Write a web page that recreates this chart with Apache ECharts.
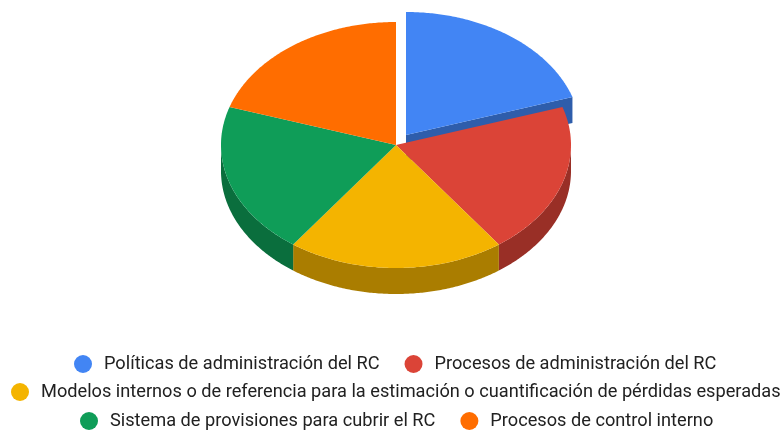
<!DOCTYPE html>
<html>
<head>
<meta charset="utf-8">
<style>
html, body { margin: 0; padding: 0; background: #fff; }
#main { width: 783px; height: 430px; }
</style>
<script src="https://cdn.jsdelivr.net/npm/echarts@6/dist/echarts.min.js"></script>
</head>
<body>
<div id="main"></div>
<script>
var categories = [
    'Políticas de administración del RC',
    'Procesos de administración del RC',
    'Modelos internos o de referencia para la estimación o cuantificación de pérdidas esperadas',
    'Sistema de provisiones para cubrir el RC',
    'Procesos de control interno'
];
var values = [20, 20, 20, 20, 20];
var topColors = ['#4285f4', '#db4437', '#f4b400', '#0f9d58', '#ff6d00'];
var sideColors = ['#2e5dab', '#992f26', '#aa7d00', '#0a6e3d', '#b24c00'];
var legendRows = [[0, 1], [2], [3, 4]];
var legendTops = [355, 383, 412];
var legendLefts = [74, 11, 80];

// pie geometry: elliptical top face, side walls pushed down by DEPTH
var CX = 396, CY = 145, RX = 175, RY = 123, DEPTH = 26;
var EXPLODED = 0, EXPLODE_DX = 10, EXPLODE_DY = -10;
var total = values.reduce(function(a, b) { return a + b; }, 0);

// angle counted clockwise from 12 o'clock
function rimPoint(angle, cx, cy) {
    return [cx + RX * Math.sin(angle), cy - RY * Math.cos(angle)];
}

function arcPoints(a0, a1, cx, cy) {
    var pts = [];
    var steps = Math.max(2, Math.ceil((a1 - a0) / 0.01));
    for (var i = 0; i <= steps; i++) {
        pts.push(rimPoint(a0 + (a1 - a0) * i / steps, cx, cy));
    }
    return pts;
}

function poly(points, fill) {
    return {
        type: 'polygon',
        shape: { points: points },
        style: { fill: fill, stroke: null }
    };
}

function down(points) {
    return points.map(function(p) { return [p[0], p[1] + DEPTH]; });
}

function renderSlice(index, params, api) {
    var before = 0;
    for (var i = 0; i < index; i++) before += values[i];
    var a0 = before / total * Math.PI * 2;
    var a1 = a0 + api.value(0) / total * Math.PI * 2;
    var cx = CX + (index === EXPLODED ? EXPLODE_DX : 0);
    var cy = CY + (index === EXPLODED ? EXPLODE_DY : 0);
    var children = [];

    // cut faces are only seen on the slice pulled out of the pie
    if (index === EXPLODED) {
        [a0, a1].forEach(function(a) {
            var edge = [[cx, cy], rimPoint(a, cx, cy)];
            children.push(poly(edge.concat(down(edge).reverse()), sideColors[index]));
        });
    }
    // outer wall: only the front half of the rim faces the viewer
    var w0 = Math.max(a0, Math.PI / 2), w1 = Math.min(a1, Math.PI * 1.5);
    if (w1 > w0) {
        var rim = arcPoints(w0, w1, cx, cy);
        children.push(poly(rim.concat(down(rim).reverse()), sideColors[index]));
    }
    children.push(poly([[cx, cy]].concat(arcPoints(a0, a1, cx, cy)), topColors[index]));
    return { type: 'group', children: children };
}

var series = categories.map(function(name, i) {
    return {
        name: name,
        type: 'custom',
        coordinateSystem: 'none',
        silent: true,
        animation: false,
        itemStyle: { color: topColors[i] },
        data: [[values[i]]],
        renderItem: function(params, api) {
            return renderSlice(i, params, api);
        }
    };
});

var legends = legendRows.map(function(row, r) {
    return {
        data: row.map(function(i) { return categories[i]; }),
        top: legendTops[r],
        left: legendLefts[r],
        padding: 0,
        icon: 'circle',
        itemWidth: 18,
        itemHeight: 18,
        itemGap: 25,
        selectedMode: false,
        textStyle: {
            fontFamily: 'Roboto',
            fontSize: 18.2,
            color: '#212121',
            padding: [0, 0, 0, 7]
        }
    };
});

var chart = echarts.init(document.getElementById('main'));
chart.setOption({
    backgroundColor: '#ffffff',
    animation: false,
    legend: legends,
    series: series
});
</script>
</body>
</html>
